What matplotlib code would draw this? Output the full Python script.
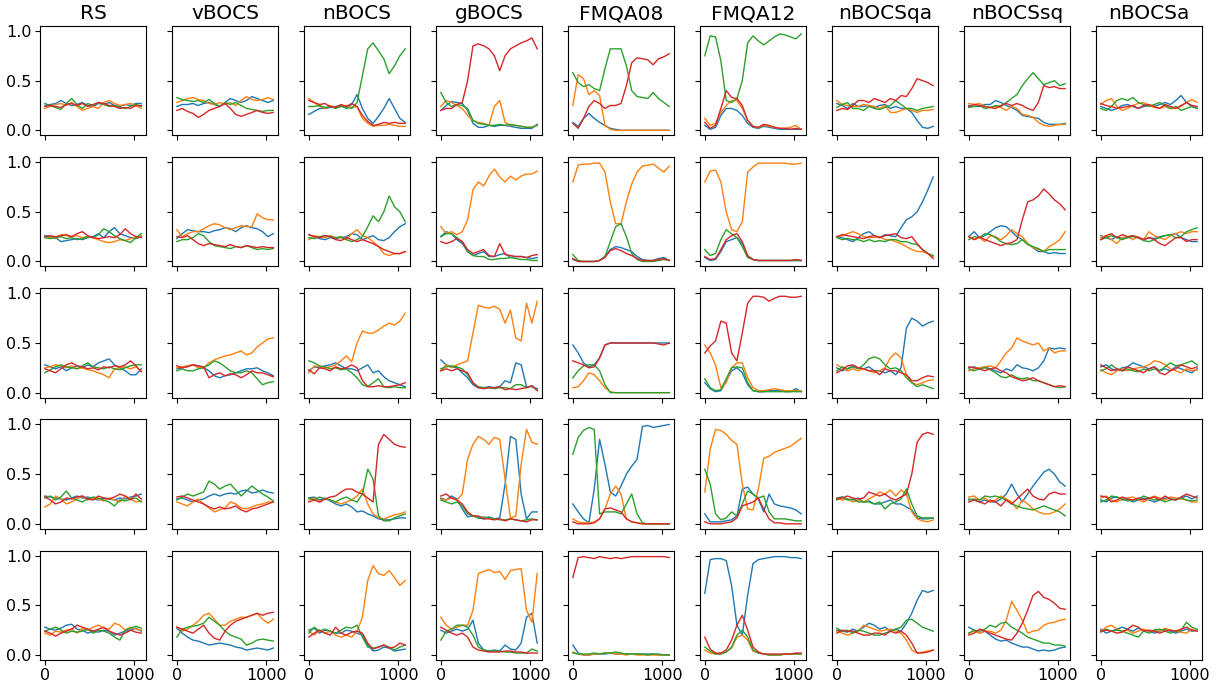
import numpy as np
import matplotlib
matplotlib.use("Agg")
import matplotlib.pyplot as plt

# Step index on the x axis: samples every 60 steps, 0 .. 1080
X_MAX = 1080

methods = ["RS", "vBOCS", "nBOCS", "gBOCS", "FMQA08", "FMQA12", "nBOCSqa", "nBOCSsq", "nBOCSa"]
colors = ["#1f77b4", "#ff7f0e", "#2ca02c", "#d62728"]

# Each method: 5 runs (rows), each run: [blue, orange, green, red]
RS = [
    [[.25, .26, .27, .30, .27, .25, .26, .28, .25, .24, .27, .26, .28, .25, .24, .26, .25, .27, .27],
     [.22, .24, .26, .27, .25, .28, .24, .20, .22, .24, .22, .28, .30, .27, .25, .26, .27, .25, .22],
     [.27, .25, .23, .21, .27, .32, .26, .22, .27, .25, .28, .26, .24, .25, .23, .22, .24, .26, .24],
     [.24, .25, .24, .23, .26, .27, .25, .27, .24, .26, .28, .27, .25, .24, .22, .23, .22, .25, .25]],
    [[.26, .25, .24, .20, .21, .22, .23, .22, .24, .25, .28, .24, .30, .34, .28, .26, .24, .23, .25],
     [.25, .24, .23, .27, .26, .25, .26, .24, .25, .24, .22, .20, .19, .20, .22, .21, .23, .24, .26],
     [.24, .23, .24, .25, .23, .24, .22, .23, .25, .24, .27, .33, .30, .26, .23, .21, .19, .24, .28],
     [.25, .26, .25, .26, .27, .25, .28, .30, .26, .24, .23, .24, .25, .24, .27, .33, .28, .25, .24]],
    [[.28, .26, .24, .26, .22, .25, .27, .25, .28, .26, .30, .32, .34, .28, .25, .22, .18, .18, .24],
     [.25, .26, .28, .27, .25, .27, .24, .25, .23, .22, .20, .18, .15, .24, .25, .26, .24, .26, .22],
     [.20, .23, .26, .28, .26, .25, .24, .27, .30, .26, .25, .24, .26, .24, .23, .25, .27, .28, .28],
     [.24, .22, .20, .24, .28, .30, .27, .26, .24, .25, .23, .26, .25, .27, .26, .28, .32, .27, .21]],
    [[.28, .27, .26, .25, .24, .26, .28, .26, .27, .25, .24, .26, .25, .24, .26, .25, .27, .28, .30],
     [.17, .20, .28, .25, .20, .22, .25, .28, .24, .26, .25, .23, .26, .24, .22, .28, .25, .22, .23],
     [.26, .28, .24, .27, .33, .26, .24, .22, .25, .27, .26, .24, .22, .18, .24, .23, .25, .26, .22],
     [.27, .24, .20, .22, .26, .25, .27, .28, .25, .24, .28, .26, .25, .27, .30, .28, .24, .30, .25]],
    [[.28, .26, .25, .27, .30, .31, .26, .25, .22, .24, .23, .25, .24, .20, .22, .24, .25, .27, .24],
     [.22, .20, .24, .23, .25, .26, .22, .27, .25, .28, .30, .27, .26, .32, .30, .25, .28, .26, .25],
     [.24, .26, .28, .25, .22, .24, .23, .24, .26, .22, .25, .24, .22, .18, .15, .25, .27, .29, .27],
     [.24, .22, .19, .22, .24, .26, .30, .28, .26, .24, .26, .28, .24, .22, .20, .22, .25, .23, .22]],
]

vBOCS = [
    [[.24, .26, .26, .27, .25, .27, .28, .26, .24, .28, .32, .30, .28, .30, .34, .32, .30, .28, .30],
     [.28, .30, .32, .33, .31, .30, .27, .26, .28, .26, .28, .25, .30, .34, .31, .30, .31, .33, .31],
     [.33, .31, .30, .29, .30, .28, .31, .27, .24, .28, .26, .28, .25, .22, .21, .20, .19, .20, .20],
     [.20, .22, .19, .17, .13, .16, .20, .22, .24, .27, .22, .16, .14, .16, .18, .20, .18, .17, .18]],
    [[.23, .28, .32, .31, .30, .30, .29, .31, .32, .34, .33, .30, .34, .36, .34, .33, .30, .25, .28],
     [.32, .25, .28, .30, .30, .33, .36, .38, .37, .34, .32, .34, .36, .35, .35, .48, .44, .42, .42],
     [.20, .22, .22, .24, .28, .26, .20, .16, .15, .14, .13, .15, .14, .16, .14, .12, .13, .12, .13],
     [.25, .24, .26, .22, .18, .16, .18, .17, .16, .15, .17, .15, .14, .16, .15, .14, .15, .14, .14]],
    [[.24, .25, .27, .28, .27, .25, .22, .17, .15, .17, .18, .20, .22, .24, .24, .25, .22, .20, .17],
     [.25, .26, .27, .28, .25, .25, .30, .33, .35, .37, .38, .40, .42, .38, .40, .46, .50, .54, .55],
     [.22, .24, .22, .22, .24, .25, .28, .32, .30, .26, .22, .20, .20, .22, .20, .14, .08, .10, .11],
     [.27, .25, .26, .28, .27, .26, .15, .18, .20, .17, .19, .18, .15, .18, .22, .20, .20, .18, .16]],
    [[.25, .26, .24, .22, .24, .25, .28, .30, .28, .30, .31, .30, .33, .34, .31, .32, .34, .32, .31],
     [.22, .20, .18, .22, .25, .20, .16, .12, .14, .16, .22, .20, .16, .15, .17, .19, .20, .22, .22],
     [.24, .27, .30, .28, .30, .32, .43, .40, .35, .38, .40, .34, .28, .33, .38, .34, .30, .27, .23],
     [.27, .28, .26, .24, .22, .20, .17, .15, .17, .15, .16, .18, .14, .12, .15, .16, .18, .20, .22]],
    [[.27, .22, .18, .15, .14, .12, .10, .11, .12, .11, .10, .08, .07, .05, .06, .07, .06, .05, .07],
     [.28, .24, .26, .30, .34, .40, .42, .36, .30, .30, .34, .36, .38, .38, .40, .42, .36, .32, .36],
     [.18, .26, .28, .29, .30, .32, .38, .34, .30, .24, .20, .18, .16, .10, .12, .15, .16, .15, .14],
     [.28, .26, .24, .22, .26, .30, .22, .17, .15, .24, .30, .34, .36, .38, .40, .42, .40, .42, .43]],
]

nBOCS = [
    [[.16, .19, .22, .22, .23, .24, .25, .22, .26, .36, .22, .12, .07, .14, .22, .32, .22, .12, .08],
     [.32, .28, .24, .22, .25, .23, .24, .25, .23, .24, .12, .07, .04, .05, .05, .06, .05, .04, .04],
     [.24, .24, .25, .23, .24, .22, .24, .23, .22, .28, .55, .82, .88, .80, .72, .57, .65, .75, .82],
     [.30, .28, .26, .27, .24, .23, .26, .24, .27, .24, .15, .09, .05, .06, .08, .07, .08, .07, .07]],
    [[.27, .25, .23, .22, .24, .23, .24, .25, .28, .27, .22, .24, .26, .22, .21, .24, .30, .35, .38],
     [.22, .26, .25, .24, .26, .24, .24, .22, .28, .32, .26, .24, .20, .15, .08, .06, .08, .08, .10],
     [.24, .23, .25, .26, .25, .24, .25, .22, .20, .22, .25, .35, .46, .40, .50, .66, .55, .50, .40],
     [.27, .25, .24, .26, .25, .22, .21, .24, .22, .20, .22, .20, .18, .15, .12, .10, .08, .08, .10]],
    [[.22, .26, .25, .27, .28, .30, .27, .24, .24, .22, .25, .28, .20, .22, .16, .12, .10, .08, .06],
     [.20, .27, .26, .25, .26, .28, .32, .37, .31, .50, .62, .60, .60, .63, .67, .70, .68, .72, .80],
     [.32, .30, .27, .26, .24, .25, .23, .24, .20, .15, .08, .06, .10, .14, .06, .05, .06, .05, .05],
     [.23, .19, .25, .24, .22, .26, .24, .25, .28, .25, .12, .06, .06, .07, .06, .06, .07, .08, .10]],
    [[.26, .27, .24, .26, .23, .20, .18, .20, .17, .12, .13, .10, .08, .05, .04, .04, .05, .06, .06],
     [.24, .26, .22, .25, .24, .22, .20, .22, .24, .28, .35, .20, .10, .06, .05, .07, .09, .10, .12],
     [.26, .24, .27, .25, .24, .22, .25, .27, .24, .22, .30, .55, .45, .08, .03, .03, .06, .08, .10],
     [.22, .24, .22, .25, .27, .28, .32, .35, .35, .32, .30, .26, .22, .80, .90, .85, .80, .78, .77]],
    [[.25, .27, .22, .25, .24, .22, .22, .25, .24, .22, .20, .10, .04, .05, .08, .07, .04, .05, .06],
     [.24, .20, .25, .22, .24, .20, .18, .20, .18, .24, .38, .75, .90, .82, .80, .85, .78, .70, .75],
     [.22, .28, .24, .26, .24, .22, .25, .28, .27, .30, .18, .08, .07, .08, .10, .08, .05, .08, .10],
     [.18, .22, .25, .22, .20, .28, .22, .20, .23, .24, .22, .12, .06, .08, .10, .07, .08, .12, .10]],
]

gBOCS = [
    [[.20, .25, .29, .28, .27, .20, .07, .03, .03, .05, .04, .05, .05, .04, .03, .02, .02, .02, .06],
     [.24, .30, .28, .25, .22, .15, .10, .08, .07, .05, .24, .30, .08, .05, .05, .04, .03, .03, .05],
     [.38, .28, .24, .26, .25, .22, .10, .07, .06, .05, .05, .06, .05, .06, .05, .04, .03, .03, .05],
     [.20, .22, .22, .26, .28, .50, .85, .87, .85, .82, .75, .60, .75, .82, .85, .88, .90, .93, .82]],
    [[.25, .30, .28, .22, .18, .10, .06, .08, .10, .05, .05, .07, .08, .04, .05, .05, .04, .03, .04],
     [.35, .28, .30, .27, .30, .42, .72, .80, .76, .86, .93, .85, .80, .86, .82, .86, .88, .88, .91],
     [.25, .28, .28, .24, .20, .10, .06, .05, .05, .02, .02, .03, .03, .04, .03, .02, .02, .01, .01],
     [.20, .18, .20, .23, .20, .12, .08, .10, .12, .06, .05, .18, .07, .06, .05, .05, .04, .06, .07]],
    [[.33, .28, .26, .25, .20, .15, .08, .05, .05, .06, .05, .06, .12, .10, .30, .28, .06, .06, .04],
     [.22, .28, .25, .28, .30, .32, .60, .88, .86, .85, .87, .84, .70, .83, .55, .52, .90, .70, .92],
     [.24, .26, .27, .26, .24, .18, .10, .06, .05, .05, .04, .05, .05, .04, .08, .08, .05, .07, .03],
     [.22, .24, .22, .24, .22, .20, .10, .05, .04, .05, .05, .06, .03, .04, .03, .04, .05, .07, .02]],
    [[.26, .24, .28, .25, .15, .07, .08, .06, .05, .07, .05, .06, .40, .88, .85, .30, .05, .12, .12],
     [.25, .24, .26, .24, .30, .65, .80, .88, .85, .80, .87, .85, .45, .06, .08, .60, .95, .82, .80],
     [.24, .22, .20, .22, .18, .10, .08, .06, .07, .06, .05, .04, .04, .05, .04, .03, .04, .05, .04],
     [.28, .30, .26, .24, .20, .12, .08, .08, .05, .05, .04, .05, .03, .05, .04, .03, .02, .04, .04]],
    [[.25, .22, .24, .26, .24, .26, .35, .12, .05, .04, .05, .04, .10, .06, .05, .12, .38, .42, .12],
     [.38, .30, .26, .28, .30, .30, .45, .82, .84, .86, .83, .84, .76, .85, .86, .87, .45, .33, .82],
     [.15, .24, .26, .30, .30, .28, .20, .08, .05, .04, .04, .04, .03, .03, .02, .02, .02, .06, .04],
     [.28, .25, .22, .20, .22, .18, .08, .05, .04, .03, .03, .03, .04, .04, .03, .03, .02, .02, .02]],
]

FMQA08 = [
    [[.08, .04, .12, .17, .12, .08, .05, .02, .01, .0, .0, .0, .0, .0, .0, .0, .0, .0, .0],
     [.25, .56, .52, .36, .40, .35, .05, .01, .0, .0, .0, .0, .0, .0, .0, .0, .0, .0, .0],
     [.58, .48, .44, .46, .42, .40, .62, .82, .82, .82, .65, .40, .34, .33, .32, .38, .32, .28, .24],
     [.07, .02, .12, .24, .30, .27, .22, .25, .25, .27, .45, .68, .73, .72, .71, .66, .72, .74, .77]],
    [[.02, .0, .0, .0, .0, .01, .05, .12, .15, .14, .12, .10, .05, .02, .01, .01, .03, .04, .01],
     [.80, .97, .98, .98, .99, .99, .90, .60, .38, .38, .60, .78, .90, .96, .97, .98, .94, .90, .96],
     [.07, .01, .0, .0, .0, .01, .05, .20, .35, .38, .25, .08, .02, .0, .0, .0, .01, .02, .01],
     [.03, .0, .0, .0, .0, .01, .04, .11, .13, .11, .08, .06, .03, .01, .01, .01, .02, .03, .01]],
    [[.48, .40, .30, .26, .28, .35, .48, .50, .50, .50, .50, .50, .50, .50, .50, .50, .50, .50, .50],
     [.05, .06, .12, .20, .18, .12, .05, .01, .0, .0, .0, .0, .0, .0, .0, .0, .0, .0, .0],
     [.15, .22, .27, .28, .28, .22, .08, .0, .0, .0, .0, .0, .0, .0, .0, .0, .0, .0, .0],
     [.32, .30, .28, .25, .26, .35, .48, .50, .50, .50, .50, .50, .50, .50, .50, .50, .49, .48, .50]],
    [[.20, .12, .05, .01, .35, .85, .60, .32, .28, .38, .50, .58, .65, .98, .99, .97, .98, .99, 1.0],
     [.05, .02, .01, .01, .02, .05, .15, .30, .38, .30, .05, .02, .01, .0, .0, .0, .0, .0, .0],
     [.70, .87, .94, .97, .95, .10, .12, .12, .12, .10, .20, .30, .10, .01, .0, .0, .0, .0, .0],
     [.02, .0, .0, .0, .01, .05, .15, .16, .14, .12, .05, .02, .01, .0, .0, .0, .0, .0, .0]],
    [[.10, .02, .0, .0, .01, .01, .01, .02, .01, .01, .01, .01, .01, .01, .01, .01, .0, .0, .0],
     [.03, .01, .0, .0, .01, .01, .02, .02, .01, .01, .0, .01, .0, .0, .0, .0, .0, .0, .0],
     [.02, .01, .01, .01, .02, .01, .02, .02, .03, .02, .01, .01, .01, .01, .0, .01, .01, .0, .0],
     [.78, .98, .99, .98, .97, .99, .98, .97, .98, .97, .98, .99, .99, .99, .99, .99, .99, .99, .98]],
]

FMQA12 = [
    [[.05, .01, .03, .15, .22, .22, .20, .15, .07, .03, .02, .04, .03, .02, .01, .01, .01, .01, .01],
     [.12, .05, .07, .18, .25, .30, .30, .22, .10, .04, .03, .05, .04, .03, .02, .02, .03, .05, .01],
     [.75, .95, .94, .70, .30, .28, .32, .50, .88, .95, .90, .86, .90, .94, .97, .96, .94, .92, .97],
     [.08, .02, .05, .22, .40, .33, .32, .25, .10, .04, .03, .06, .05, .03, .02, .02, .01, .02, .01]],
    [[.04, .01, .02, .10, .20, .22, .24, .18, .05, .02, .01, .01, .01, .01, .01, .01, .01, .01, .01],
     [.80, .91, .92, .80, .50, .32, .30, .40, .90, .95, .99, .99, .99, .99, .99, .99, .98, .98, .99],
     [.12, .06, .08, .22, .32, .28, .24, .15, .04, .02, .01, .01, .01, .01, .01, .01, .01, .01, .01],
     [.05, .02, .03, .12, .22, .26, .28, .20, .06, .02, .01, .01, .01, .01, .01, .01, .01, .02, .01]],
    [[.10, .04, .01, .02, .12, .22, .25, .20, .08, .02, .01, .01, .02, .02, .02, .01, .01, .04, .01],
     [.48, .40, .28, .05, .10, .25, .30, .30, .15, .05, .02, .02, .03, .04, .03, .02, .02, .02, .02],
     [.14, .05, .02, .03, .14, .25, .26, .25, .10, .02, .01, .01, .01, .01, .01, .01, .01, .01, .01],
     [.40, .47, .52, .72, .70, .40, .32, .60, .90, .97, .97, .96, .92, .95, .97, .97, .96, .96, .97]],
    [[.10, .02, .02, .02, .03, .04, .08, .35, .37, .30, .25, .12, .30, .20, .18, .17, .16, .14, .10],
     [.32, .75, .95, .94, .90, .84, .80, .40, .15, .14, .35, .66, .68, .72, .74, .76, .78, .82, .86],
     [.55, .40, .10, .04, .06, .12, .08, .20, .33, .30, .26, .28, .12, .05, .05, .05, .04, .03, .03],
     [.02, .0, .0, .0, .01, .02, .06, .18, .20, .22, .26, .15, .05, .01, .01, .0, .0, .0, .0]],
    [[.62, .96, .97, .97, .95, .70, .30, .20, .60, .92, .96, .97, .98, .99, .99, .99, .98, .98, .97],
     [.05, .02, .01, .01, .03, .07, .18, .20, .15, .04, .02, .01, .0, .0, .0, .01, .01, .01, .01],
     [.08, .04, .01, .01, .03, .08, .20, .25, .18, .05, .02, .01, .0, .0, .0, .01, .01, .01, .01],
     [.18, .06, .02, .02, .05, .15, .30, .40, .25, .08, .03, .01, .01, .01, .01, .01, .01, .02, .02]],
]

nBOCSqa = [
    [[.27, .25, .22, .27, .24, .24, .25, .23, .25, .26, .22, .24, .22, .22, .18, .10, .03, .02, .04],
     [.30, .26, .25, .24, .24, .26, .25, .24, .22, .25, .18, .18, .20, .22, .20, .18, .20, .20, .21],
     [.23, .26, .28, .22, .22, .20, .24, .22, .21, .23, .25, .30, .26, .22, .22, .20, .22, .23, .24],
     [.20, .22, .21, .25, .30, .30, .28, .32, .30, .28, .32, .30, .35, .34, .42, .52, .50, .48, .45]],
    [[.25, .24, .22, .20, .24, .28, .30, .26, .24, .27, .26, .25, .34, .42, .45, .50, .60, .72, .85],
     [.25, .26, .28, .30, .28, .25, .24, .24, .25, .22, .22, .20, .18, .15, .12, .10, .10, .08, .05],
     [.24, .22, .23, .22, .22, .20, .22, .20, .21, .20, .22, .22, .20, .20, .18, .17, .12, .08, .06],
     [.25, .27, .26, .25, .24, .23, .25, .26, .24, .26, .27, .28, .24, .23, .25, .18, .12, .08, .03]],
    [[.25, .22, .24, .27, .25, .24, .26, .22, .22, .20, .22, .18, .25, .65, .75, .72, .67, .70, .72],
     [.28, .25, .22, .24, .22, .24, .22, .20, .22, .25, .35, .40, .35, .18, .10, .08, .10, .12, .13],
     [.22, .26, .24, .26, .24, .28, .34, .36, .34, .28, .24, .25, .22, .15, .10, .06, .08, .06, .04],
     [.20, .23, .27, .28, .25, .24, .22, .22, .18, .24, .22, .22, .20, .18, .12, .12, .15, .17, .16]],
    [[.26, .27, .25, .24, .26, .22, .23, .20, .20, .22, .24, .20, .20, .17, .14, .06, .05, .05, .06],
     [.26, .24, .25, .22, .24, .22, .25, .28, .32, .30, .34, .28, .34, .30, .12, .05, .03, .02, .04],
     [.24, .27, .24, .25, .22, .22, .22, .20, .22, .15, .20, .22, .25, .35, .20, .08, .06, .06, .06],
     [.25, .26, .28, .26, .25, .26, .32, .30, .28, .30, .26, .24, .27, .30, .50, .82, .90, .92, .90]],
    [[.25, .24, .23, .26, .24, .28, .32, .30, .26, .28, .24, .26, .24, .32, .42, .55, .65, .63, .65],
     [.24, .22, .20, .22, .24, .30, .28, .26, .24, .25, .26, .24, .22, .15, .05, .02, .03, .04, .05],
     [.27, .24, .25, .22, .25, .24, .22, .20, .20, .22, .24, .26, .28, .35, .36, .32, .28, .26, .24],
     [.22, .25, .24, .24, .22, .20, .20, .22, .22, .20, .24, .22, .24, .20, .12, .02, .02, .03, .05]],
]

nBOCSsq = [
    [[.25, .24, .24, .26, .26, .30, .28, .25, .23, .20, .15, .14, .13, .12, .08, .06, .06, .06, .07],
     [.27, .26, .27, .24, .23, .24, .23, .20, .24, .22, .16, .15, .13, .08, .05, .04, .05, .06, .06],
     [.23, .24, .25, .22, .23, .25, .24, .28, .32, .36, .45, .52, .58, .52, .46, .48, .50, .45, .47],
     [.24, .26, .25, .24, .23, .22, .25, .27, .25, .27, .25, .22, .20, .28, .45, .43, .44, .42, .42]],
    [[.25, .30, .24, .26, .30, .34, .36, .35, .30, .25, .22, .18, .14, .10, .10, .08, .09, .08, .08],
     [.25, .22, .24, .20, .26, .25, .22, .26, .32, .28, .25, .18, .14, .12, .10, .15, .18, .22, .30],
     [.22, .25, .24, .28, .27, .24, .20, .18, .17, .18, .22, .17, .15, .13, .10, .12, .12, .12, .12],
     [.25, .22, .25, .22, .20, .18, .16, .18, .19, .22, .42, .60, .62, .66, .73, .68, .62, .58, .52]],
    [[.25, .26, .24, .26, .24, .22, .20, .24, .22, .28, .25, .24, .22, .25, .32, .45, .44, .45, .44],
     [.22, .24, .25, .26, .27, .25, .32, .40, .45, .55, .52, .50, .48, .50, .42, .45, .40, .42, .42],
     [.24, .22, .24, .25, .23, .20, .16, .15, .18, .15, .14, .15, .12, .12, .10, .08, .06, .05, .06],
     [.26, .25, .24, .22, .24, .25, .22, .20, .16, .14, .12, .13, .15, .12, .10, .08, .06, .07, .06]],
    [[.25, .24, .22, .24, .22, .22, .25, .30, .40, .30, .22, .30, .38, .45, .52, .55, .50, .42, .38],
     [.27, .28, .24, .26, .22, .24, .28, .25, .22, .15, .24, .20, .15, .12, .10, .10, .12, .15, .20],
     [.24, .25, .24, .28, .27, .28, .26, .24, .20, .18, .16, .15, .14, .16, .18, .16, .14, .12, .08],
     [.22, .24, .22, .20, .24, .22, .18, .24, .20, .25, .30, .35, .28, .25, .24, .30, .32, .30, .30]],
    [[.28, .25, .22, .24, .20, .16, .14, .15, .12, .10, .08, .08, .06, .04, .05, .04, .05, .07, .08],
     [.22, .24, .22, .24, .24, .22, .25, .35, .54, .45, .35, .22, .24, .25, .30, .32, .33, .35, .36],
     [.22, .25, .24, .26, .30, .28, .32, .33, .28, .25, .22, .18, .16, .14, .12, .12, .10, .10, .09],
     [.20, .22, .26, .24, .22, .20, .18, .16, .15, .22, .32, .45, .60, .64, .58, .56, .52, .47, .46]],
]

nBOCSa = [
    [[.24, .22, .20, .22, .25, .26, .24, .22, .24, .25, .24, .26, .28, .26, .30, .35, .28, .24, .22],
     [.26, .30, .32, .24, .20, .22, .25, .27, .28, .25, .23, .22, .24, .22, .22, .24, .28, .31, .28],
     [.22, .20, .24, .30, .32, .30, .33, .28, .26, .24, .26, .28, .25, .22, .24, .20, .22, .24, .22],
     [.27, .25, .24, .22, .23, .24, .25, .22, .25, .26, .24, .22, .26, .24, .22, .25, .28, .25, .24]],
    [[.26, .24, .22, .25, .23, .24, .26, .24, .22, .24, .23, .25, .26, .27, .28, .24, .22, .20, .20],
     [.24, .26, .22, .18, .24, .25, .22, .25, .22, .30, .26, .24, .22, .26, .28, .30, .28, .30, .30],
     [.22, .24, .26, .24, .22, .24, .25, .24, .21, .20, .22, .24, .26, .27, .24, .25, .30, .32, .34],
     [.22, .26, .28, .24, .27, .25, .26, .24, .22, .24, .22, .18, .16, .20, .24, .24, .20, .22, .22]],
    [[.26, .28, .24, .22, .25, .26, .30, .28, .26, .24, .26, .22, .24, .22, .26, .24, .22, .20, .24],
     [.23, .20, .18, .22, .24, .22, .24, .25, .26, .28, .32, .31, .28, .24, .22, .20, .24, .22, .23],
     [.22, .24, .28, .24, .22, .24, .22, .21, .24, .22, .24, .22, .26, .30, .27, .28, .30, .32, .28],
     [.28, .25, .22, .24, .22, .26, .24, .22, .20, .24, .26, .20, .18, .22, .24, .28, .26, .24, .26]],
    [[.24, .22, .26, .27, .24, .25, .22, .24, .26, .24, .22, .24, .26, .25, .24, .26, .28, .25, .28],
     [.26, .28, .24, .22, .25, .26, .27, .24, .22, .25, .28, .26, .24, .27, .26, .25, .24, .22, .22],
     [.22, .24, .28, .27, .25, .23, .24, .25, .28, .26, .24, .25, .22, .24, .25, .26, .24, .23, .24],
     [.28, .27, .22, .24, .27, .25, .24, .26, .24, .26, .27, .24, .28, .25, .24, .27, .30, .28, .26]],
    [[.26, .22, .24, .26, .28, .26, .24, .27, .25, .24, .22, .24, .26, .24, .22, .24, .26, .24, .25],
     [.24, .28, .30, .26, .24, .25, .22, .24, .26, .24, .25, .24, .27, .25, .24, .23, .22, .26, .24],
     [.23, .26, .24, .25, .24, .22, .20, .18, .24, .22, .25, .26, .24, .22, .24, .25, .33, .28, .26],
     [.24, .25, .24, .22, .23, .26, .30, .28, .24, .25, .24, .22, .24, .25, .24, .26, .28, .25, .24]],
]

data = [RS, vBOCS, nBOCS, gBOCS, FMQA08, FMQA12, nBOCSqa, nBOCSsq, nBOCSa]

fig, axes = plt.subplots(5, 9, figsize=(12.25, 6.82), dpi=100, sharex=True, sharey=True)
fig.subplots_adjust(left=0.0327, right=0.9812, top=0.9619, bottom=0.0323,
                    wspace=0.245, hspace=0.20)

for c, (name, runs) in enumerate(zip(methods, data)):
    for r in range(5):
        ax = axes[r, c]
        for k, series in enumerate(runs[r]):
            y = np.asarray(series, dtype=float)
            x = np.linspace(0, X_MAX, len(y))
            ax.plot(x, y, color=colors[k], lw=1.0)
        if r == 0:
            ax.set_title(name, fontsize=14.5, pad=5)
        ax.tick_params(labelsize=11.5, pad=2.5)

axes[0, 0].set_xlim(-54, 1134)
axes[0, 0].set_ylim(-0.05, 1.05)
axes[0, 0].set_xticks([0, 1000])
axes[0, 0].set_yticks([0.0, 0.5, 1.0])

fig.savefig("out.png", dpi=100)
